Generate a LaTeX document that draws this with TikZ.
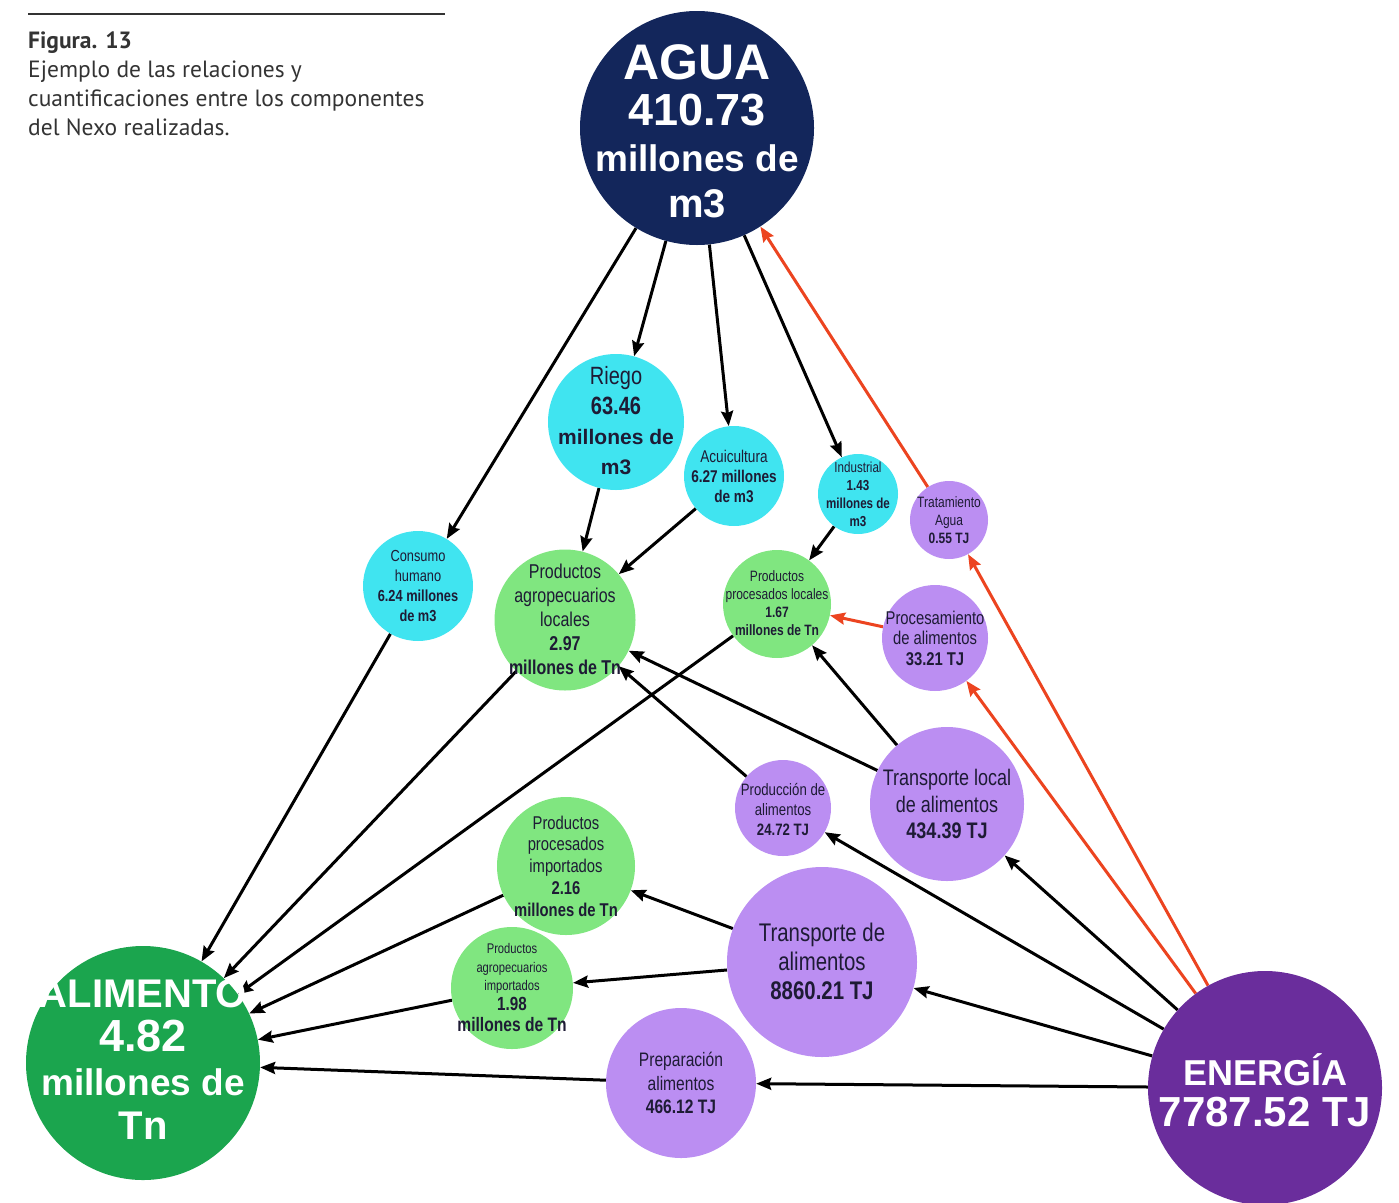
\documentclass[tikz,border=0pt]{standalone}
\usepackage{fontspec}
\setmainfont{Liberation Sans}
\newfontfamily\nf[FakeStretch=0.8]{Liberation Sans}
\newfontfamily\capf{PT Sans}
\usetikzlibrary{arrows.meta,backgrounds}

\definecolor{aguacol}{HTML}{13265B}
\definecolor{alimcol}{HTML}{1BA54E}
\definecolor{enercol}{HTML}{6A2D9C}
\definecolor{cyancol}{HTML}{40E4F0}
\definecolor{greencol}{HTML}{80E680}
\definecolor{lilac}{HTML}{BB8EF2}
\definecolor{ink}{HTML}{1E1B35}
\definecolor{redline}{HTML}{EC4420}
\definecolor{rulecol}{HTML}{333333}

\tikzset{
  circ/.style={circle, inner sep=0pt, draw=none, minimum size=#1},
  txt/.style={align=center, inner sep=0pt, text=ink},
  bigtxt/.style={align=center, inner sep=0pt, text=white, font=\bfseries},
  arr/.style={line width=3pt, draw=black, -{Stealth[length=15pt,width=12pt,inset=2pt]}},
  rarr/.style={arr, draw=redline, -{Stealth[length=15pt,width=12pt,inset=2pt]}},
  capline/.style={anchor=base west, inner sep=0pt, text=rulecol, font=\capf\fontsize{23.5}{29}\selectfont},
}

\begin{document}
\begin{tikzpicture}[x=1pt, y=-1pt]
\useasboundingbox (0,0) rectangle (1399,1202);

% caption
\draw[line width=1.4pt, rulecol] (28,14) -- (445,14);
\node[capline] (cap1) at (28,48) {\bfseries Figura. 13};
\node[capline] (cap2) at (28,77) {Ejemplo de las relaciones y};
\node[capline] (cap3) at (28,106) {cuantificaciones entre los componentes};
\node[capline] (cap4) at (28,135) {del Nexo realizadas.};

% main components
\node[circ=234pt, fill=aguacol] (agua) at (697,128) {};
\node[bigtxt, font=\bfseries\fontsize{40}{46}\selectfont] (agua-t) at (697,131)
  {{\fontsize{50}{46}\selectfont AGUA}\\{\fontsize{45}{46}\selectfont 410.73}\\{\fontsize{37}{46}\selectfont millones de}\\m3};

\node[circ=234pt, fill=alimcol] (alim) at (143,1063) {};
\node[bigtxt, font=\bfseries\fontsize{40}{44}\selectfont] (alim-t) at (143,1060)
  {{\fontsize{40}{44}\selectfont ALIMENTO}\\{\fontsize{45}{44}\selectfont 4.82}\\{\fontsize{37}{44}\selectfont millones de}\\Tn};

\node[circ=234pt, fill=enercol] (ener) at (1265,1088) {};
\node[bigtxt, font=\bfseries\fontsize{38}{41}\selectfont] (ener-t) at (1265,1090)
  {{\fontsize{36}{41}\selectfont ENERGÍA}\\{\fontsize{42}{41}\selectfont 7787.52 TJ}};

% water uses
\node[circ=136pt, fill=cyancol] (riego) at (616,422) {};
\node[txt, font=\nf\fontsize{25}{30}\selectfont] (riego-t) at (616,421)
  {Riego\\\bfseries 63.46\\{\rmfamily\bfseries\fontsize{21}{30}\selectfont millones de}\\{\rmfamily\bfseries\fontsize{21}{30}\selectfont m3}};

\node[circ=100pt, fill=cyancol] (acui) at (734,476) {};
\node[txt, font=\nf\fontsize{17}{20}\selectfont] (acui-t) at (734,476)
  {Acuicultura\\\bfseries 6.27 millones\\\bfseries de m3};

\node[circ=80pt, fill=cyancol] (indus) at (858,494) {};
\node[txt, font=\nf\fontsize{14.5}{18}\selectfont] (indus-t) at (858,494)
  {Industrial\\\bfseries 1.43\\\bfseries millones de\\\bfseries m3};

\node[circ=110pt, fill=cyancol] (consumo) at (418,586) {};
\node[txt, font=\nf\fontsize{16}{20}\selectfont] (consumo-t) at (418,586)
  {Consumo\\humano\\\bfseries 6.24 millones\\\bfseries de m3};

% food products
\node[circ=141pt, fill=greencol] (pal) at (565,620) {};
\node[txt, font=\nf\fontsize{20}{24}\selectfont] (pal-t) at (565,619)
  {Productos\\agropecuarios\\locales\\\bfseries 2.97\\\bfseries millones de Tn};

\node[circ=108pt, fill=greencol] (ppl) at (777,604) {};
\node[txt, font=\nf\fontsize{15}{18}\selectfont] (ppl-t) at (777,603)
  {Productos\\procesados locales\\\bfseries 1.67\\\bfseries millones de Tn};

\node[circ=138pt, fill=greencol] (ppi) at (566,866) {};
\node[txt, font=\nf\fontsize{18.5}{21.8}\selectfont] (ppi-t) at (566,866)
  {Productos\\procesados\\importados\\\bfseries 2.16\\\bfseries millones de Tn};

\node[circ=122pt, fill=greencol] (pai) at (512,988) {};
\node[txt, font=\nf\fontsize{14}{18.5}\selectfont] (pai-t) at (512,988)
  {Productos\\agropecuarios\\importados\\[1pt]{\bfseries\fontsize{19}{20}\selectfont 1.98}\\[3pt]{\bfseries\fontsize{19.5}{20}\selectfont millones de Tn}};

% energy uses
\node[circ=78pt, fill=lilac] (trat) at (949,520) {};
\node[txt, font=\nf\fontsize{15}{18}\selectfont] (trat-t) at (949,520)
  {Tratamiento\\Agua\\\bfseries 0.55 TJ};

\node[circ=106pt, fill=lilac] (proc) at (935,638) {};
\node[txt, font=\nf\fontsize{18.5}{20.5}\selectfont] (proc-t) at (935,638)
  {Procesamiento\\de alimentos\\\bfseries 33.21 TJ};

\node[circ=96pt, fill=lilac] (prod) at (783,808) {};
\node[txt, font=\nf\fontsize{16.5}{20}\selectfont] (prod-t) at (783,809)
  {Producción de\\alimentos\\\bfseries 24.72 TJ};

\node[circ=154pt, fill=lilac] (tloc) at (947,804) {};
\node[txt, font=\nf\fontsize{22.5}{26.5}\selectfont] (tloc-t) at (947,804)
  {Transporte local\\de alimentos\\\bfseries 434.39 TJ};

\node[circ=190pt, fill=lilac] (tali) at (822,962) {};
\node[txt, font=\nf\fontsize{25.5}{29}\selectfont] (tali-t) at (822,961)
  {Transporte de\\alimentos\\\bfseries 8860.21 TJ};

\node[circ=150pt, fill=lilac] (prep) at (681,1083) {};
\node[txt, font=\nf\fontsize{19.5}{23.5}\selectfont] (prep-t) at (681,1083)
  {Preparación\\alimentos\\\bfseries 466.12 TJ};

% connectors, kept under the circles
\begin{scope}[on background layer]
  \draw[arr] (agua) -- (consumo);
  \draw[arr] (agua) -- (riego);
  \draw[arr] (agua) -- (acui);
  \draw[arr] (agua) -- (indus);
  \draw[arr] (riego) -- (pal);
  \draw[arr] (acui) -- (pal);
  \draw[arr] (indus) -- (ppl);
  \draw[arr] (consumo) -- (alim);
  \draw[arr] (pal) -- (alim);
  \draw[arr] (ppl) -- (alim);
  \draw[arr] (ppi) -- (alim);
  \draw[arr] (pai) -- (alim);
  \draw[arr] (prep) -- (alim);
  \draw[arr] (tloc) -- (pal);
  \draw[arr] (prod) -- (pal);
  \draw[arr] (tloc) -- (ppl);
  \draw[arr] (tali) -- (ppi);
  \draw[arr] (tali) -- (pai);
  \draw[arr] (ener) -- (prep);
  \draw[arr] (ener) -- (tali);
  \draw[arr] (ener) -- (prod);
  \draw[arr] (ener) -- (tloc);
  \draw[rarr] (ener) -- (trat);
  \draw[rarr] (ener) -- (proc);
  \draw[rarr] (trat) -- (agua);
  \draw[rarr] (proc) -- (ppl);
\end{scope}
\end{tikzpicture}
\end{document}
